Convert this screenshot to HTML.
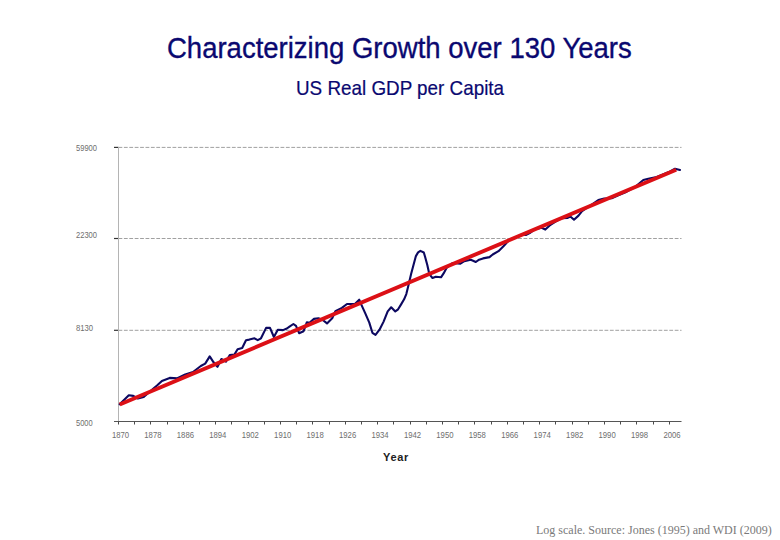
<!DOCTYPE html>
<html><head><meta charset="utf-8"><style>
html,body{margin:0;padding:0;background:#fff;width:780px;height:540px;overflow:hidden;position:relative}
.t{position:absolute;white-space:nowrap;font-family:"Liberation Sans",sans-serif}
#title{left:167px;top:32px;-webkit-text-stroke:0.35px #0a0870;font-size:28.9px;color:#0a0870;line-height:32px;transform-origin:0 0;transform:scaleX(0.952)}
#sub{left:295.5px;top:77px;-webkit-text-stroke:0.2px #0a0870;font-size:20.8px;color:#0a0870;line-height:22px;transform-origin:0 0;transform:scaleX(0.906)}
#year{left:383px;top:450.5px;font-size:11px;letter-spacing:0.7px;font-weight:bold;color:#222;line-height:12px}
#foot{left:536px;top:523px;font-family:"Liberation Serif",serif;font-size:12px;color:#7a7a7a;line-height:14px}
svg{position:absolute;left:0;top:0}
.yl,.xl{font-family:"Liberation Sans",sans-serif;font-size:8.6px;fill:#6e6e6e}
</style></head><body>
<div class="t" id="title">Characterizing Growth over 130 Years</div>
<div class="t" id="sub">US Real GDP per Capita</div>
<svg width="780" height="540" viewBox="0 0 780 540">
<line x1="118.5" y1="147.4" x2="681.5" y2="147.4" stroke="#a0a0a0" stroke-width="1" stroke-dasharray="3.8,1.6"/>
<line x1="114" y1="147.4" x2="118.5" y2="147.4" stroke="#333" stroke-width="1.2"/>
<line x1="118.5" y1="238.5" x2="681.5" y2="238.5" stroke="#a0a0a0" stroke-width="1" stroke-dasharray="3.8,1.6"/>
<line x1="114" y1="238.5" x2="118.5" y2="238.5" stroke="#333" stroke-width="1.2"/>
<line x1="118.5" y1="330.3" x2="681.5" y2="330.3" stroke="#a0a0a0" stroke-width="1" stroke-dasharray="3.8,1.6"/>
<line x1="114" y1="330.3" x2="118.5" y2="330.3" stroke="#333" stroke-width="1.2"/>
<line x1="118.5" y1="147" x2="118.5" y2="421.5" stroke="#b4b4b4" stroke-width="1"/>
<line x1="114" y1="421.5" x2="681.5" y2="421.5" stroke="#555" stroke-width="1.2"/>
<line x1="118.5" y1="421.5" x2="118.5" y2="424.5" stroke="#4a4a4a" stroke-width="1"/>
<line x1="134.5" y1="421.5" x2="134.5" y2="424.5" stroke="#4a4a4a" stroke-width="1"/>
<line x1="150.5" y1="421.5" x2="150.5" y2="424.5" stroke="#4a4a4a" stroke-width="1"/>
<line x1="167.5" y1="421.5" x2="167.5" y2="424.5" stroke="#4a4a4a" stroke-width="1"/>
<line x1="183.5" y1="421.5" x2="183.5" y2="424.5" stroke="#4a4a4a" stroke-width="1"/>
<line x1="199.5" y1="421.5" x2="199.5" y2="424.5" stroke="#4a4a4a" stroke-width="1"/>
<line x1="215.5" y1="421.5" x2="215.5" y2="424.5" stroke="#4a4a4a" stroke-width="1"/>
<line x1="231.5" y1="421.5" x2="231.5" y2="424.5" stroke="#4a4a4a" stroke-width="1"/>
<line x1="248.5" y1="421.5" x2="248.5" y2="424.5" stroke="#4a4a4a" stroke-width="1"/>
<line x1="264.5" y1="421.5" x2="264.5" y2="424.5" stroke="#4a4a4a" stroke-width="1"/>
<line x1="280.5" y1="421.5" x2="280.5" y2="424.5" stroke="#4a4a4a" stroke-width="1"/>
<line x1="296.5" y1="421.5" x2="296.5" y2="424.5" stroke="#4a4a4a" stroke-width="1"/>
<line x1="312.5" y1="421.5" x2="312.5" y2="424.5" stroke="#4a4a4a" stroke-width="1"/>
<line x1="329.5" y1="421.5" x2="329.5" y2="424.5" stroke="#4a4a4a" stroke-width="1"/>
<line x1="345.5" y1="421.5" x2="345.5" y2="424.5" stroke="#4a4a4a" stroke-width="1"/>
<line x1="361.5" y1="421.5" x2="361.5" y2="424.5" stroke="#4a4a4a" stroke-width="1"/>
<line x1="377.5" y1="421.5" x2="377.5" y2="424.5" stroke="#4a4a4a" stroke-width="1"/>
<line x1="393.5" y1="421.5" x2="393.5" y2="424.5" stroke="#4a4a4a" stroke-width="1"/>
<line x1="410.5" y1="421.5" x2="410.5" y2="424.5" stroke="#4a4a4a" stroke-width="1"/>
<line x1="426.5" y1="421.5" x2="426.5" y2="424.5" stroke="#4a4a4a" stroke-width="1"/>
<line x1="442.5" y1="421.5" x2="442.5" y2="424.5" stroke="#4a4a4a" stroke-width="1"/>
<line x1="458.5" y1="421.5" x2="458.5" y2="424.5" stroke="#4a4a4a" stroke-width="1"/>
<line x1="474.5" y1="421.5" x2="474.5" y2="424.5" stroke="#4a4a4a" stroke-width="1"/>
<line x1="491.5" y1="421.5" x2="491.5" y2="424.5" stroke="#4a4a4a" stroke-width="1"/>
<line x1="507.5" y1="421.5" x2="507.5" y2="424.5" stroke="#4a4a4a" stroke-width="1"/>
<line x1="523.5" y1="421.5" x2="523.5" y2="424.5" stroke="#4a4a4a" stroke-width="1"/>
<line x1="539.5" y1="421.5" x2="539.5" y2="424.5" stroke="#4a4a4a" stroke-width="1"/>
<line x1="555.5" y1="421.5" x2="555.5" y2="424.5" stroke="#4a4a4a" stroke-width="1"/>
<line x1="572.5" y1="421.5" x2="572.5" y2="424.5" stroke="#4a4a4a" stroke-width="1"/>
<line x1="588.5" y1="421.5" x2="588.5" y2="424.5" stroke="#4a4a4a" stroke-width="1"/>
<line x1="604.5" y1="421.5" x2="604.5" y2="424.5" stroke="#4a4a4a" stroke-width="1"/>
<line x1="620.5" y1="421.5" x2="620.5" y2="424.5" stroke="#4a4a4a" stroke-width="1"/>
<line x1="636.5" y1="421.5" x2="636.5" y2="424.5" stroke="#4a4a4a" stroke-width="1"/>
<line x1="653.5" y1="421.5" x2="653.5" y2="424.5" stroke="#4a4a4a" stroke-width="1"/>
<line x1="669.5" y1="421.5" x2="669.5" y2="424.5" stroke="#4a4a4a" stroke-width="1"/>
<text x="76" y="150.5" class="yl" textLength="21" lengthAdjust="spacingAndGlyphs">59900</text>
<text x="76" y="238" class="yl" textLength="21" lengthAdjust="spacingAndGlyphs">22300</text>
<text x="76" y="331" class="yl" textLength="17.1" lengthAdjust="spacingAndGlyphs">8130</text>
<text x="76" y="425.6" class="yl" textLength="16.7" lengthAdjust="spacingAndGlyphs">5000</text>
<text x="111.9" y="437.7" class="xl" textLength="17.2" lengthAdjust="spacingAndGlyphs">1870</text>
<text x="144.3" y="437.7" class="xl" textLength="17.2" lengthAdjust="spacingAndGlyphs">1878</text>
<text x="176.8" y="437.7" class="xl" textLength="17.2" lengthAdjust="spacingAndGlyphs">1886</text>
<text x="209.2" y="437.7" class="xl" textLength="17.2" lengthAdjust="spacingAndGlyphs">1894</text>
<text x="241.7" y="437.7" class="xl" textLength="17.2" lengthAdjust="spacingAndGlyphs">1902</text>
<text x="274.1" y="437.7" class="xl" textLength="17.2" lengthAdjust="spacingAndGlyphs">1910</text>
<text x="306.5" y="437.7" class="xl" textLength="17.2" lengthAdjust="spacingAndGlyphs">1918</text>
<text x="339.0" y="437.7" class="xl" textLength="17.2" lengthAdjust="spacingAndGlyphs">1926</text>
<text x="371.4" y="437.7" class="xl" textLength="17.2" lengthAdjust="spacingAndGlyphs">1934</text>
<text x="403.9" y="437.7" class="xl" textLength="17.2" lengthAdjust="spacingAndGlyphs">1942</text>
<text x="436.3" y="437.7" class="xl" textLength="17.2" lengthAdjust="spacingAndGlyphs">1950</text>
<text x="468.7" y="437.7" class="xl" textLength="17.2" lengthAdjust="spacingAndGlyphs">1958</text>
<text x="501.2" y="437.7" class="xl" textLength="17.2" lengthAdjust="spacingAndGlyphs">1966</text>
<text x="533.6" y="437.7" class="xl" textLength="17.2" lengthAdjust="spacingAndGlyphs">1974</text>
<text x="566.1" y="437.7" class="xl" textLength="17.2" lengthAdjust="spacingAndGlyphs">1982</text>
<text x="598.5" y="437.7" class="xl" textLength="17.2" lengthAdjust="spacingAndGlyphs">1990</text>
<text x="630.9" y="437.7" class="xl" textLength="17.2" lengthAdjust="spacingAndGlyphs">1998</text>
<text x="663.4" y="437.7" class="xl" textLength="17.2" lengthAdjust="spacingAndGlyphs">2006</text>
<path d="M119.7,404.3 L128.8,395.3 L133.3,395.9 L137.9,398.5 L143.7,397.0 L154.0,388.0 L157.0,385.5 L161.9,380.9 L169.7,377.9 L177.4,378.3 L185.2,374.4 L193.0,372.0 L200.8,366.0 L205.2,363.6 L209.7,356.4 L213.6,362.3 L217.5,366.8 L221.4,359.0 L225.9,361.6 L229.8,355.1 L234.4,354.5 L237.6,349.3 L242.2,348.0 L246.0,340.2 L249.3,339.6 L254.5,338.3 L257.7,340.2 L261.0,338.3 L266.1,327.9 L270.0,327.9 L273.9,337.0 L277.8,329.8 L283.0,330.1 L286.9,328.5 L289.5,326.6 L293.4,324.0 L296.0,325.9 L299.1,333.2 L303.6,331.2 L306.9,322.2 L309.5,322.8 L314.0,318.9 L318.5,318.3 L323.1,320.2 L327.0,323.4 L332.2,318.3 L335.4,311.1 L341.9,307.9 L347.0,304.0 L351.0,304.0 L355.1,303.7 L359.2,299.7 L361.2,304.3 L365.3,313.4 L369.3,322.6 L372.4,332.8 L375.5,334.8 L379.5,329.7 L383.6,321.6 L387.7,311.4 L391.2,307.3 L395.3,311.4 L398.1,309.3 L401.1,304.4 L404.1,299.3 L406.3,294.1 L407.8,288.1 L411.1,274.1 L415.9,256.1 L418.1,252.4 L420.4,250.9 L423.8,252.5 L425.0,256.5 L427.3,265.0 L429.3,274.1 L432.5,278.0 L435.8,276.7 L441.0,277.3 L443.6,273.4 L446.8,267.6 L452.6,263.0 L460.4,263.7 L464.3,261.1 L470.8,259.8 L475.8,262.0 L479.1,259.7 L483.0,258.4 L489.5,257.1 L492.7,254.5 L498.5,251.2 L503.7,246.0 L508.9,240.2 L515.4,237.6 L521.9,234.4 L525.8,235.0 L529.7,233.1 L534.9,229.2 L541.7,227.8 L545.3,229.6 L549.7,225.5 L555.1,221.9 L561.4,218.3 L567.7,217.9 L570.4,216.5 L574.0,219.7 L578.5,215.6 L582.1,211.2 L586.7,208.0 L598.3,200.0 L604.2,198.6 L611.7,198.3 L618.3,195.3 L626.7,191.7 L635.0,187.0 L643.3,180.0 L648.3,178.7 L656.7,177.0 L668.3,172.3 L675.0,168.7 L680.0,170.0" fill="none" stroke="#0c0860" stroke-width="2.1" stroke-linejoin="round" stroke-linecap="round"/>
<line x1="119.7" y1="404.5" x2="676.2" y2="169.8" stroke="#dc1016" stroke-width="3.9" stroke-linecap="butt"/>
</svg>
<div class="t" id="year">Year</div>
<div class="t" id="foot">Log scale. Source: Jones (1995) and WDI (2009)</div>
</body></html>
